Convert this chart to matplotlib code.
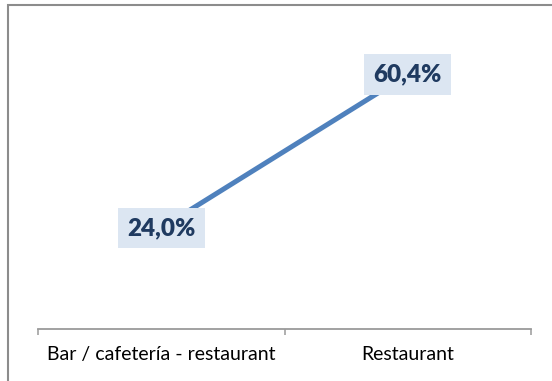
import matplotlib.pyplot as plt
from matplotlib.patches import Rectangle

categories = ['Bar / cafetería - restaurant', 'Restaurant']
values = [24.0, 60.4]

LINE = '#4F81BD'
LABEL_BG = '#DCE6F2'
LABEL_FG = '#1F3A60'
AXIS = '#9A9A9A'

fig = plt.figure(figsize=(5.52, 3.81), dpi=100)
ax = fig.add_axes([38 / 552, 52 / 381, 493 / 552, 295 / 381])

xs = [i + 0.5 for i in range(len(categories))]
ax.plot(xs, values, color=LINE, linewidth=3.6, solid_capstyle='butt', zorder=2)

for x, v in zip(xs, values):
    ax.text(x, v, '{:.1f}%'.format(v).replace('.', ','), ha='center', va='center',
            fontsize=17.5, fontweight='heavy', family='Lato', color=LABEL_FG, zorder=3,
            bbox=dict(boxstyle='square,pad=0.38', facecolor=LABEL_BG, edgecolor='none'))

ax.set_xlim(0, len(categories))
ax.set_ylim(0, 70)

for side in ['left', 'right', 'top']:
    ax.spines[side].set_visible(False)
ax.spines['bottom'].set_color(AXIS)
ax.spines['bottom'].set_linewidth(1.3)

ax.set_yticks([])
ax.set_xticks(range(len(categories) + 1))
ax.set_xticklabels([])
ax.tick_params(axis='x', which='major', direction='out', length=4.5, width=1.1, color=AXIS)
ax.set_xticks(xs, minor=True)
ax.set_xticklabels(categories, minor=True, family='Lato', fontsize=14, color='#000000')
ax.tick_params(axis='x', which='minor', length=0, pad=12)

# outer frame of the chart area
fig.patches.append(Rectangle((8 / 552, -0.1), 1.2, 1 - 5 / 381 + 0.1,
                             transform=fig.transFigure, fill=False,
                             edgecolor='#8C8C8C', linewidth=1.5))

fig.savefig('out.png', dpi=100)
